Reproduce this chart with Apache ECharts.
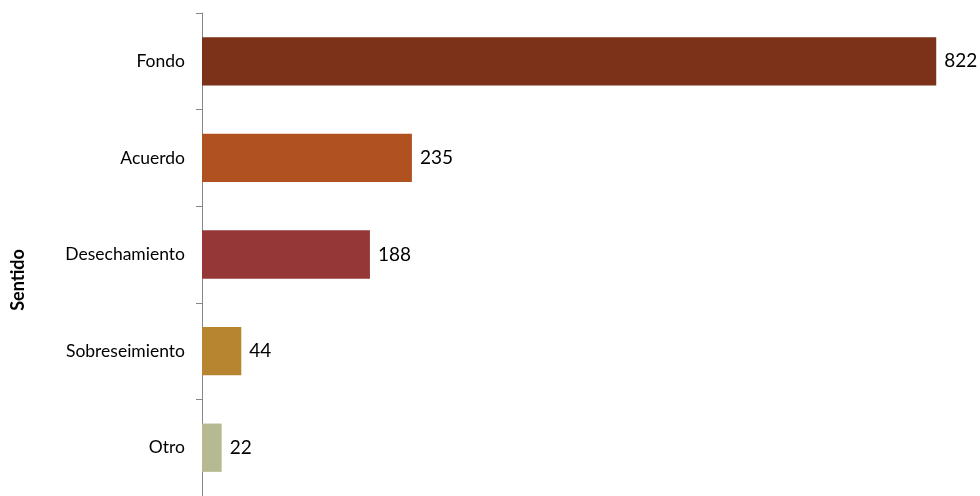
<!DOCTYPE html>
<html>
<head>
<meta charset="utf-8">
<script src="https://cdn.jsdelivr.net/npm/echarts@6/dist/echarts.min.js"></script>
<style>
html,body{margin:0;padding:0;background:#fff;}
#c{width:980px;height:496px;}
</style>
</head>
<body>
<div id="c"></div>
<script>
const categories = ["Fondo", "Acuerdo", "Desechamiento", "Sobreseimiento", "Otro"];
const values = [822, 235, 188, 44, 22];
const barColors = ["#7B3219", "#B0521F", "#963737", "#B7852F", "#B7BA90"];
const axisTitle = "Sentido";

const chart = echarts.init(document.getElementById('c'), null, {renderer: 'canvas'});
chart.setOption({
  animation: false,
  backgroundColor: '#ffffff',
  grid: {left: 202, top: 13, right: 0, bottom: -2, containLabel: false},
  graphic: [{
    type: 'text',
    x: 18, y: 280,
    rotation: Math.PI / 2,
    style: {
      text: axisTitle, fontFamily: 'Lato', fontWeight: 'bold', fontSize: 18, fill: '#000',
      align: 'center', verticalAlign: 'middle'
    }
  }],
  xAxis: {
    type: 'value', min: 0, max: 871, show: false
  },
  yAxis: {
    type: 'category',
    data: categories,
    inverse: true,
    axisLine: {show: true, lineStyle: {color: '#868686', width: 1}},
    axisTick: {show: true, length: 6, lineStyle: {color: '#868686'}},
    axisLabel: {margin: 17, fontFamily: 'Lato', fontSize: 17.5, color: '#000'},
    splitLine: {show: false}
  },
  series: [{
    type: 'bar',
    barWidth: '50%',
    data: values.map((v, i) => ({value: v, itemStyle: {color: barColors[i]}})),
    label: {show: true, position: 'right', distance: 8, fontFamily: 'Lato', fontSize: 19, color: '#000'}
  }]
});
</script>
</body>
</html>
